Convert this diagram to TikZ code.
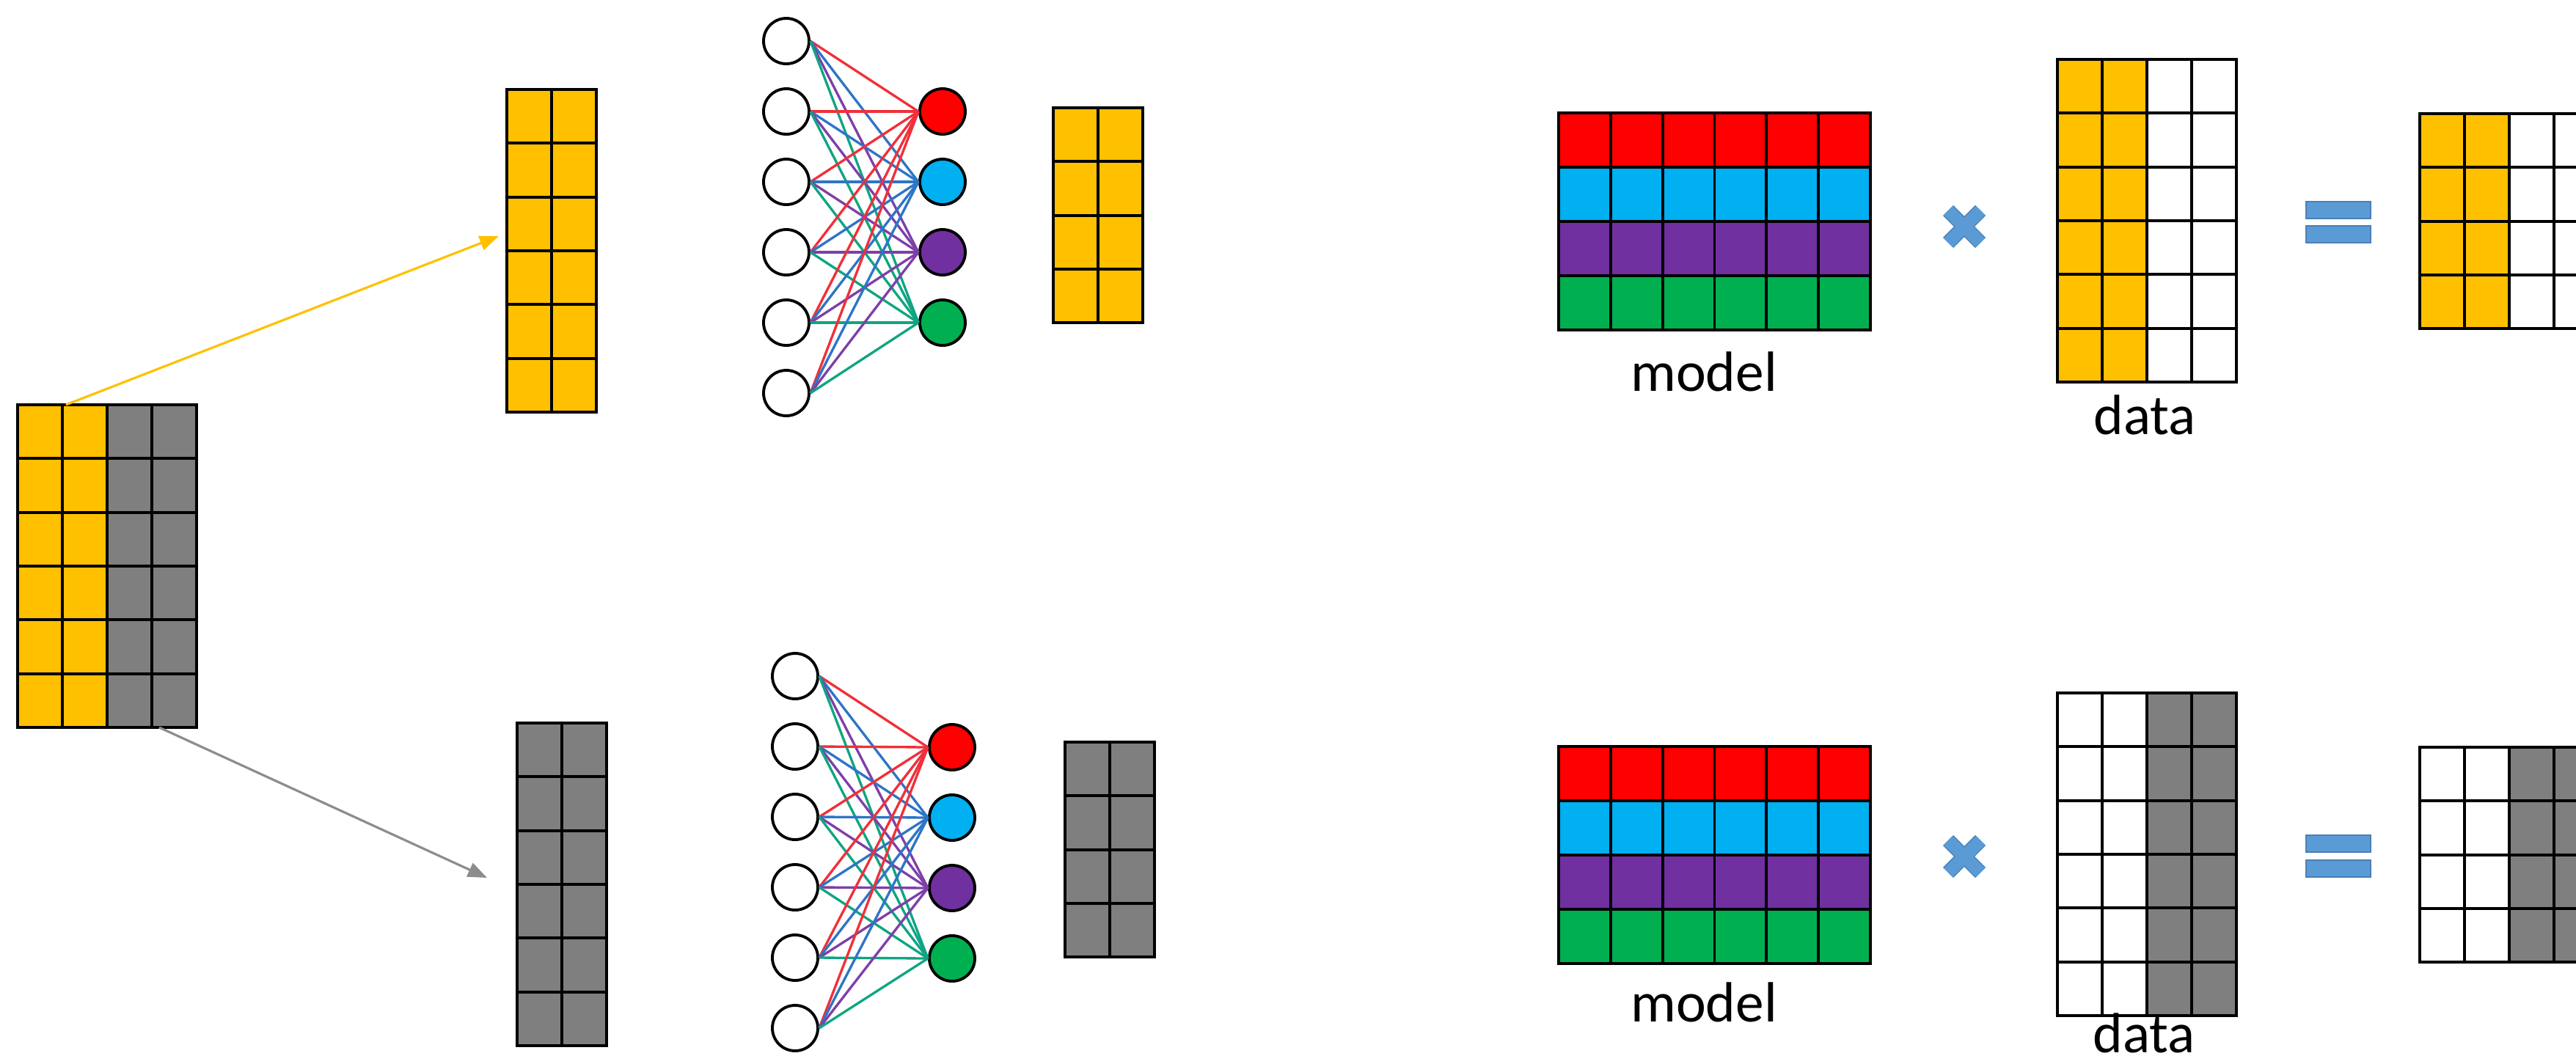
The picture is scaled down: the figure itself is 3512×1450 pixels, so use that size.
\documentclass[tikz,border=0pt]{standalone}
\usepackage{fontspec}
\setmainfont{Carlito}
\usetikzlibrary{matrix,arrows.meta,positioning}
\definecolor{cyel}{HTML}{FFC000}
\definecolor{cgray}{HTML}{7F7F7F}
\definecolor{cred}{HTML}{FF0000}
\definecolor{cblue}{HTML}{00B0F0}
\definecolor{cpurp}{HTML}{7030A0}
\definecolor{cgreen}{HTML}{00B050}
\definecolor{lred}{HTML}{F0303A}
\definecolor{lblue}{HTML}{2E75C6}
\definecolor{lpurp}{HTML}{7F3FA8}
\definecolor{lgreen}{HTML}{10A582}
\definecolor{csign}{HTML}{5B9BD5}
\definecolor{csignd}{HTML}{4A7FB5}
\definecolor{carrow}{HTML}{8C8C8C}
\tikzset{%
  tensor/.style    = {matrix of nodes, nodes in empty cells, anchor=north west,%
                      inner sep=0pt, outer sep=0pt, column sep=-1.1pt, row sep=-1.1pt,%
                      nodes={entry}},%
  entry/.style     = {draw, line width=1.1pt, inner sep=0pt, outer sep=0pt,%
                      minimum width=0.61cm, minimum height=0.733cm},%
  wideentry/.style = {nodes={minimum width=0.708cm, minimum height=0.74cm}},%
  allyel/.style    = {nodes={fill=cyel}},%
  allgray/.style   = {nodes={fill=cgray}},%
  yelleft/.style   = {column 1/.style={nodes={fill=cyel}},%
                      column 2/.style={nodes={fill=cyel}}},%
  grayright/.style = {column 3/.style={nodes={fill=cgray}},%
                      column 4/.style={nodes={fill=cgray}}},%
  layers/.style    = {row 1/.style={nodes={fill=cred}},%
                      row 2/.style={nodes={fill=cblue}},%
                      row 3/.style={nodes={fill=cpurp}},%
                      row 4/.style={nodes={fill=cgreen}}},%
  unit/.style      = {circle, draw, line width=1.1pt, inner sep=0pt, minimum size=0.62cm},%
  link/.style      = {line width=0.95pt},%
  feed/.style      = {line width=0.9pt, -{Triangle[length=0.26cm, width=0.2cm]}},%
  nametag/.style   = {font=\fontsize{22}{26}\selectfont, anchor=base, inner sep=0pt},%
  opsign/.style    = {fill=csign, draw=csignd, line width=0.5pt}%
}
\begin{document}
\begin{tikzpicture}[x=0.01cm, y=-0.01cm]
  \useasboundingbox (0,0) rectangle (3512,1450);
  \clip (0,0) rectangle (3512,1450);
  % source data
  \matrix (src) [tensor, yelleft, grayright] at (22,550) {
    &&&\\ &&&\\ &&&\\ &&&\\ &&&\\ &&&\\
  };
  \coordinate (ytip) at (680,322);
  \coordinate (gtip) at (664,1197);
  \draw[feed, cyel] ([xshift=0.05cm]src-1-2.north west) -- (ytip);
  \draw[feed, carrow] ([xshift=0.1cm]src-6-4.south west) -- (gtip);

  % upper half
  \matrix (tcol) [tensor, allyel] at (689,120) {
    &\\ &\\ &\\ &\\ &\\ &\\
  };
  \foreach \i in {1,...,6}
    \node[unit] (ta\i) at (1072,{56+96*(\i-1)}) {};
  \foreach \j/\c in {1/cred,2/cblue,3/cpurp,4/cgreen}
    \node[unit, fill=\c] (tb\j) at (1285,{152+96*(\j-1)}) {};
  \foreach \i in {1,...,6}
    \foreach \j/\c in {1/lred,2/lblue,3/lpurp,4/lgreen}
      \draw[link, \c] (ta\i.east) -- (tb\j.west);
  \matrix (tout) [tensor, allyel] at (1434,145) {
    &\\ &\\ &\\ &\\
  };
  \matrix (tmodel) [tensor, wideentry, layers] at (2123,152) {
    &&&&&\\ &&&&&\\ &&&&&\\ &&&&&\\
  };
  \node[nametag] (tmodlab) at (2323,533) {model};
  \draw[line width=0.2cm, csignd] (2656,287) -- (2700,331) (2656,331) -- (2700,287);
  \draw[line width=0.17cm, csign] (2656,287) -- (2700,331) (2656,331) -- (2700,287);
  \matrix (tdata) [tensor, yelleft] at (2803,79) {
    &&&\\ &&&\\ &&&\\ &&&\\ &&&\\ &&&\\
  };
  \node[nametag] (tdatlab) at (2924,592) {data};
  \filldraw[opsign] (3144,275) rectangle (3232,298) (3144,308) rectangle (3232,331);
  \matrix (tres) [tensor, yelleft] at (3297,153) {
    &&&\\ &&&\\ &&&\\ &&&\\
  };

  % lower half
  \matrix (bcol) [tensor, allgray] at (703,984) {
    &\\ &\\ &\\ &\\ &\\ &\\
  };
  \foreach \i in {1,...,6}
    \node[unit] (ba\i) at (1084,{922+96*(\i-1)}) {};
  \foreach \j/\c in {1/cred,2/cblue,3/cpurp,4/cgreen}
    \node[unit, fill=\c] (bb\j) at (1298,{1019+96*(\j-1)}) {};
  \foreach \i in {1,...,6}
    \foreach \j/\c in {1/lred,2/lblue,3/lpurp,4/lgreen}
      \draw[link, \c] (ba\i.east) -- (bb\j.west);
  \matrix (bout) [tensor, allgray] at (1450,1010) {
    &\\ &\\ &\\ &\\
  };
  \matrix (bmodel) [tensor, wideentry, layers] at (2123,1016) {
    &&&&&\\ &&&&&\\ &&&&&\\ &&&&&\\
  };
  \node[nametag] (bmodlab) at (2323,1393) {model};
  \draw[line width=0.2cm, csignd] (2656,1146) -- (2700,1190) (2656,1190) -- (2700,1146);
  \draw[line width=0.17cm, csign] (2656,1146) -- (2700,1190) (2656,1190) -- (2700,1146);
  \matrix (bdata) [tensor, grayright] at (2803,943) {
    &&&\\ &&&\\ &&&\\ &&&\\ &&&\\ &&&\\
  };
  \node[nametag] (bdatlab) at (2923,1435) {data};
  \filldraw[opsign] (3144,1139) rectangle (3232,1162) (3144,1173) rectangle (3232,1196);
  \matrix (bres) [tensor, grayright] at (3297,1017) {
    &&&\\ &&&\\ &&&\\ &&&\\
  };
\end{tikzpicture}
\end{document}
